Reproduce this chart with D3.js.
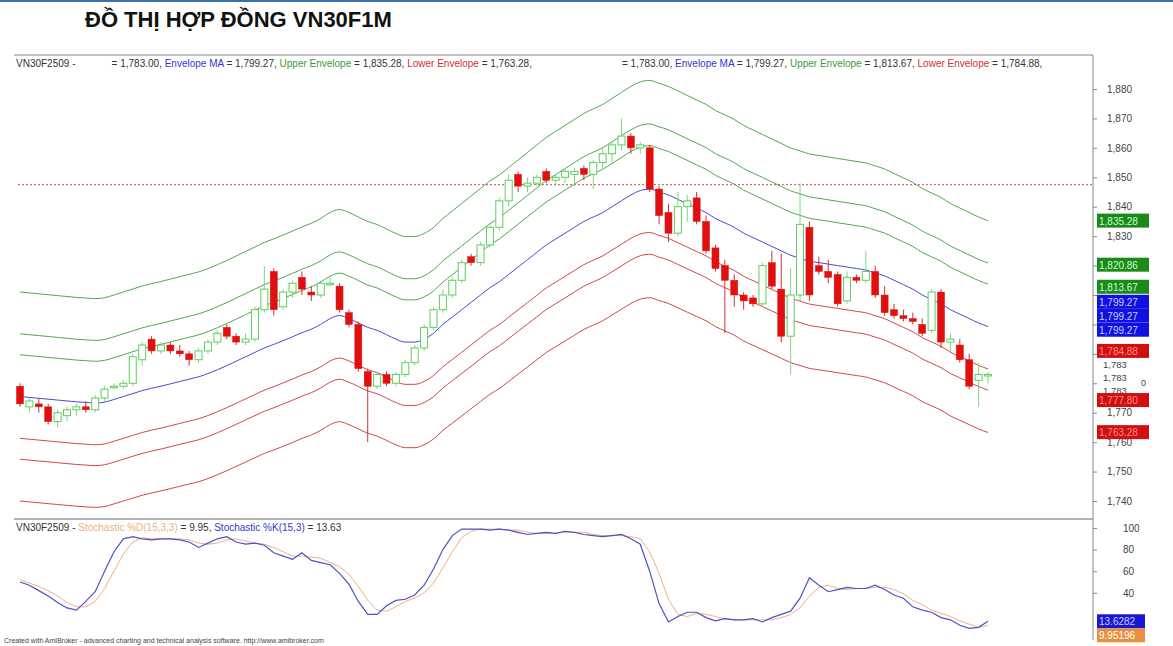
<!DOCTYPE html>
<html><head><meta charset="utf-8">
<script src="https://cdn.jsdelivr.net/npm/d3@7"></script>
<style>body{margin:0;background:#fff;overflow:hidden}svg{display:block}</style>
</head><body>
<svg id="c" width="1173" height="646"></svg>
<script>
const ohlc = [
[1779,1780,1772,1773],[1772,1775,1770,1774],[1773,1775,1770,1772],[1772,1773,1766,1767],[1767,1771,1765,1770],
[1769,1772,1767,1771],[1771,1773,1769,1772],[1772,1774,1770,1771],[1771,1776,1770,1775],[1775,1779,1774,1778],
[1779,1780,1778,1779],[1779,1781,1778,1780],[1780,1790,1779,1789],[1788,1794,1786,1793],[1795,1796,1790,1791],
[1791,1794,1790,1793],[1793,1794,1790,1791],[1791,1793,1789,1790],[1790,1791,1786,1788],[1788,1792,1787,1791],
[1791,1795,1790,1794],[1794,1798,1793,1797],[1799,1800,1795,1796],[1796,1797,1793,1794],[1794,1797,1793,1795],
[1795,1806,1794,1805],[1805,1820,1804,1812],[1818,1819,1803,1805],[1806,1812,1805,1811],[1811,1815,1809,1814],
[1816,1818,1810,1812],[1811,1813,1808,1810],[1810,1815,1809,1814],[1814,1816,1813,1814],[1813,1814,1804,1805],
[1804,1805,1799,1800],[1800,1801,1784,1785],[1784,1785,1760,1779],[1779,1784,1778,1783],[1783,1784,1779,1780],
[1780,1784,1779,1783],[1783,1788,1782,1787],[1787,1793,1786,1792],[1792,1800,1791,1799],[1799,1806,1798,1805],
[1805,1812,1804,1810],[1810,1816,1809,1815],[1815,1822,1814,1821],[1823,1824,1820,1821],[1821,1828,1820,1827],
[1827,1834,1826,1833],[1833,1843,1832,1842],[1842,1851,1840,1849],[1851,1852,1845,1847],[1847,1850,1845,1848],
[1848,1851,1847,1850],[1852,1853,1848,1849],[1849,1851,1847,1850],[1850,1853,1848,1852],[1851,1853,1847,1852],
[1853,1854,1849,1851],[1851,1856,1846,1855],[1855,1860,1853,1858],[1858,1862,1855,1861],[1861,1870,1859,1864],
[1864,1865,1858,1860],[1860,1862,1858,1861],[1860,1861,1845,1846],[1846,1847,1834,1837],[1838,1841,1828,1831],
[1831,1845,1830,1840],[1840,1844,1835,1842],[1843,1845,1834,1835],[1835,1837,1824,1825],[1826,1827,1818,1819],
[1820,1822,1797,1815],[1815,1817,1806,1810],[1810,1811,1805,1808],[1809,1810,1806,1807],[1807,1821,1806,1820],
[1821,1825,1812,1813],[1812,1824,1794,1796],[1796,1819,1783,1810],[1810,1848,1808,1834],[1833,1835,1808,1810],
[1820,1823,1817,1818],[1818,1822,1814,1816],[1817,1818,1806,1807],[1808,1818,1807,1816],[1816,1817,1814,1815],
[1815,1825,1814,1818],[1818,1820,1809,1810],[1810,1813,1803,1804],[1805,1807,1802,1803],[1803,1805,1801,1802],
[1802,1804,1800,1801],[1800,1802,1796,1797],[1798,1812,1797,1811],[1811,1812,1792,1794],[1794,1797,1791,1795],
[1793,1795,1787,1788],[1788,1790,1778,1779],[1781,1787,1772,1783],[1783,1784,1780,1783]];
const maValues = [1775.5,1775.2,1774.9,1774.6,1774.3,1774,1773.7,1773.5,1773.3,1773.6,1774.5,1775.5,1776.5,1777.5,1778.3,1779,1779.8,1780.6,1781.4,1782.2,
1783.3,1784.6,1786,1787.5,1789,1790.5,1792,1793.2,1794.5,1795.8,1797.2,1798.4,1800,1802,1803,1802,1800.5,1799,1798,1796.5,
1795,1794,1794,1795,1797,1800,1802.5,1805,1807.5,1810,1812.5,1814.5,1817,1819.5,1822,1824.5,1827,1829,1831,1833,
1835,1836.5,1838,1840,1842,1844,1845.5,1846,1845,1844,1842.5,1841,1839.5,1838,1836,1834.5,1833,1831,1829.5,1828,
1826.5,1825,1823.5,1822.5,1821.5,1821,1820.5,1820,1819.5,1819,1818.5,1817.5,1816.5,1815,1813.5,1812,1810,1808.5,1807,1805,
1803.5,1802,1800.5,1799.27];
const upperPct = [0.008,0.012,0.02];
const lowerPct = [0.008,0.012,0.02];
const stochK = [50,47,42,37,31,26,24,32,41,60,78,90,92,90,89,90,90,89,87,82,86,90,92,87,85,86,84,77,74,71,77,70,68,66,58,48,32,20,20,28,
33,34,38,47,62,80,93,99,99,99,98,99,98,96,94,95,96,95,97,96,94,93,92,93,94,90,85,60,30,13,18,22,22,17,14,16,15,15,16,13,
17,20,23,35,54,47,41,43,45,44,44,47,43,38,35,27,24,22,17,15,10,7,8,13.63];
const stochD = [52,49,46,42,37,31,27,27,32,44,60,76,87,91,90,90,90,90,89,86,85,86,89,90,88,86,85,82,78,74,74,73,72,68,64,57,46,33,24,23,
27,32,35,40,49,63,78,91,97,99,99,99,98,98,96,95,95,95,96,96,96,94,93,93,93,92,90,78,58,34,20,18,21,20,18,16,15,15,15,15,
15,17,20,26,37,45,47,44,43,44,44,45,45,43,39,33,29,24,21,18,14,11,8,9.95];
const priceTicks = [1740,1750,1760,1770,1780,1790,1800,1810,1820,1830,1840,1850,1860,1870,1880];
const hiddenTickLabels = [1780,1790,1800,1810,1820];
const stochTicks = [40,60,80,100];
const badges = [
 {v:"1,835.28",y:1835.28,c:"#1a8a1a",t:"#cfc"},{v:"1,820.86",y:1820.3,c:"#1a8a1a",t:"#cfc"},{v:"1,813.67",y:1812.8,c:"#1a8a1a",t:"#cfc"},
 {v:"1,799.27",y:1807.7,c:"#1010e0",t:"#ccf"},{v:"1,799.27",y:1803,c:"#1010e0",t:"#ccf"},{v:"1,799.27",y:1798.2,c:"#1010e0",t:"#ccf"},
 {v:"1,784.88",y:1791,c:"#d01010",t:"#f88"},{v:"1,777.80",y:1774.3,c:"#d01010",t:"#f88"},{v:"1,763.28",y:1763.4,c:"#d01010",t:"#f88"}];
const plainLabels = [{v:"1,783",y:1786.6},{v:"1,783",y:1782.2},{v:"1,783",y:1777.8}];

const svg = d3.select("#c");
const n = ohlc.length;
const x = d3.scaleLinear().domain([0,n-1]).range([20,988]);
const y = d3.scaleLinear().domain([1740,1880]).range([501,89]);
const ys = d3.scaleLinear().domain([0,100]).range([636,528]);
const F = "Arial, 'Liberation Sans', sans-serif";

svg.append("line").attr("x1",0).attr("x2",1173).attr("y1",1).attr("y2",1).attr("stroke","#3a6fb0").attr("stroke-width",2);
svg.append("text").attr("x",85).attr("y",27).attr("font-family",F).attr("font-weight","bold").attr("font-size",22).attr("fill","#111").text("ĐỒ THỊ HỢP ĐỒNG VN30F1M");

svg.append("line").attr("x1",14).attr("x2",1093).attr("y1",55).attr("y2",55).attr("stroke","#888");
svg.append("line").attr("x1",1093).attr("x2",1093).attr("y1",55).attr("y2",640).attr("stroke","#888");
svg.append("line").attr("x1",14).attr("x2",1093).attr("y1",519).attr("y2",519).attr("stroke","#999").attr("stroke-width",1.5);

const line = d3.line().x((d,i)=>x(i)).y(d=>y(d)).curve(d3.curveMonotoneX);
const g = svg.append("g");
upperPct.forEach(p=>g.append("path").attr("d",line(maValues.map(m=>m*(1+p)))).attr("fill","none").attr("stroke","#4fa84f").attr("stroke-width",1));
lowerPct.forEach(p=>g.append("path").attr("d",line(maValues.map(m=>m*(1-p)))).attr("fill","none").attr("stroke","#d64545").attr("stroke-width",1));
g.append("path").attr("d",line(maValues)).attr("fill","none").attr("stroke","#4a4ad0").attr("stroke-width",1);

svg.append("line").attr("x1",18).attr("x2",1093).attr("y1",y(1847.5)).attr("y2",y(1847.5)).attr("stroke","#d05050").attr("stroke-dasharray","2,2");

const cw = 7;
const cg = svg.append("g");
ohlc.forEach((d,i)=>{
  const [o,h,l,c] = d; const up = c>=o;
  const col = up? "#5ccf5c" : "#e01010";
  cg.append("line").attr("x1",x(i)).attr("x2",x(i)).attr("y1",y(h)).attr("y2",y(l)).attr("stroke",up?"#7fd87f":"#d03030").attr("stroke-width",1);
  const top=y(Math.max(o,c)), bot=y(Math.min(o,c));
  cg.append("rect").attr("x",x(i)-cw/2).attr("y",top).attr("width",cw).attr("height",Math.max(1.5,bot-top))
    .attr("fill",up?"#fff":"#e01010").attr("stroke",col).attr("stroke-width",up?1:0.5);
});

function legend(x0, parts){
  const t = svg.append("text").attr("y",67).attr("font-family",F).attr("font-size",10).attr("fill","#333").attr("xml:space","preserve").style("white-space","pre");
  parts.forEach((s,k)=>t.append("tspan").attr("x",k==0?x0:null).attr("fill",s[1]).text(s[0]));
}
legend(16,[["VN30F2509 -             = 1,783.00, ","#333"],["Envelope MA","#3434d0"],[" = 1,799.27, ","#333"],["Upper Envelope","#3a9a3a"],[" = 1,835.28, ","#333"],["Lower Envelope","#d03030"],[" = 1,763.28,","#333"]]);
legend(622,[["= 1,783.00, ","#333"],["Envelope MA","#3434d0"],[" = 1,799.27, ","#333"],["Upper Envelope","#3a9a3a"],[" = 1,813.67, ","#333"],["Lower Envelope","#d03030"],[" = 1,784.88,","#333"]]);

const ax = svg.append("g").attr("transform","translate(1093,0)")
  .call(d3.axisRight(y).tickValues(priceTicks).tickSize(4).tickFormat(d=>hiddenTickLabels.includes(d)?"":d3.format(",")(d)));
ax.select(".domain").remove();
ax.selectAll("line").attr("stroke","#888");
ax.selectAll("text").attr("font-family",F).attr("font-size",10).attr("fill","#444").attr("x",14);
plainLabels.forEach(p=>svg.append("text").attr("x",1103).attr("y",y(p.y)+4).attr("font-family",F).attr("font-size",9.5).attr("fill","#444").text(p.v));
svg.append("text").attr("x",1141).attr("y",y(1780.5)+4).attr("font-family",F).attr("font-size",9).attr("fill","#444").text("0");
badges.forEach(b=>{
  svg.append("rect").attr("x",1097).attr("y",y(b.y)-7).attr("width",52).attr("height",14).attr("fill",b.c);
  svg.append("text").attr("x",1099).attr("y",y(b.y)+4).attr("font-family",F).attr("font-size",10).attr("fill",b.t).text(b.v);
});

const sl = d3.line().x((d,i)=>x(i)).y(d=>ys(d));
svg.append("path").attr("d",sl(stochD)).attr("fill","none").attr("stroke","#f0b080").attr("stroke-width",1);
svg.append("path").attr("d",sl(stochK)).attr("fill","none").attr("stroke","#5050c8").attr("stroke-width",1.2);
const sax = svg.append("g").attr("transform","translate(1093,0)")
  .call(d3.axisRight(ys).tickValues(stochTicks).tickSize(4));
sax.select(".domain").remove();
sax.selectAll("line").attr("stroke","#888");
sax.selectAll("text").attr("font-family",F).attr("font-size",10).attr("fill","#444").attr("x",30);
svg.append("rect").attr("x",1097).attr("y",ys(13.63)-7).attr("width",48).attr("height",14).attr("fill","#1818d0");
svg.append("text").attr("x",1099).attr("y",ys(13.63)+4).attr("font-family",F).attr("font-size",10).attr("fill","#ccf").text("13.6282");
svg.append("rect").attr("x",1097).attr("y",ys(13.63)+7).attr("width",48).attr("height",14).attr("fill","#e89040");
svg.append("text").attr("x",1099).attr("y",ys(13.63)+18).attr("font-family",F).attr("font-size",10).attr("fill","#fff").text("9.95196");

const sg = svg.append("text").attr("y",531).attr("font-family",F).attr("font-size",10);
[["VN30F2509 - ","#333"],["Stochastic %D(15,3,3)","#f0b080"],[" = 9.95, ","#333"],["Stochastic %K(15,3)","#3434d0"],[" = 13.63","#333"]]
 .forEach((s,k)=>sg.append("tspan").attr("x",k==0?16:null).attr("fill",s[1]).text(s[0]));
svg.append("text").attr("x",4).attr("y",643).attr("font-family",F).attr("font-size",7).attr("fill","#444")
  .text("Created with AmiBroker - advanced charting and technical analysis software. http://www.amibroker.com");
</script>
</body></html>
